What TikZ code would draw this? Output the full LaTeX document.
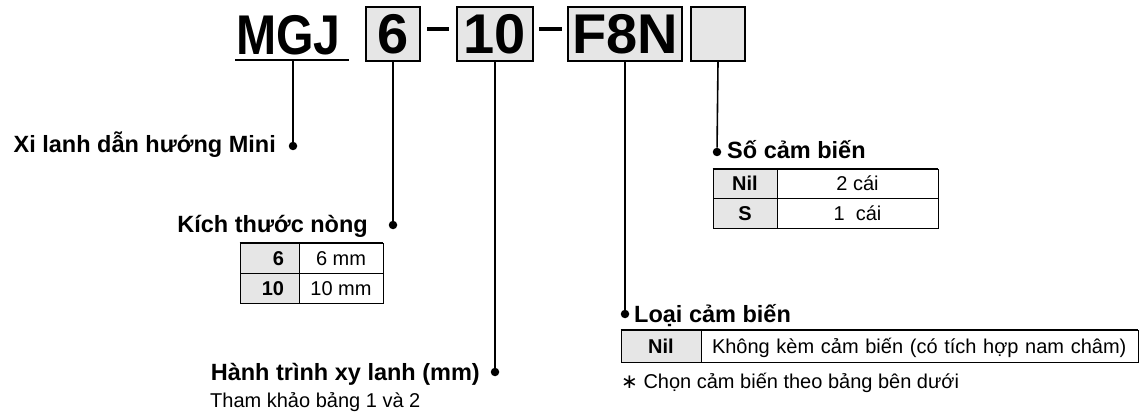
\documentclass[tikz,border=0pt]{standalone}
\usepackage{fontspec}
\setmainfont{Liberation Sans}
\newfontfamily\symfont{DejaVu Sans}
\definecolor{boxgray}{HTML}{E6E6E6}
\begin{document}
\begin{tikzpicture}[x=1pt,y=-1pt,
  big/.style={font=\fontsize{56}{56}\selectfont\bfseries},
  codebox/.style={draw, line width=2pt, fill=boxgray, inner sep=0pt, minimum height=54pt, big, text height=40pt, text depth=0pt},
  lead/.style={line width=1.6pt},
  dotnode/.style={circle, fill=black, inner sep=0pt, minimum size=8.5pt},
  head/.style={font=\fontsize{23.5}{24}\selectfont\bfseries, inner sep=0pt},
  note/.style={font=\fontsize{20}{22}\selectfont, inner sep=0pt},
  cell/.style={draw, line width=0.8pt, inner sep=0pt, text height=14.5pt, text depth=0pt},
  kcell/.style={cell, fill=boxgray, font=\fontsize{20}{22}\selectfont\bfseries},
  vcell/.style={cell, fill=white, font=\fontsize{20}{22}\selectfont},
  topline/.style={line width=1.8pt},
  dashmark/.style={line width=4pt}
]
\path[use as bounding box] (0,0) rectangle (1142,414);

% code line
\node[big, anchor=base west, inner xsep=0pt, inner ysep=0pt, text height=40pt, text depth=5pt] (mgj) at (236,55) {\scalebox{0.86}[1]{MGJ}};
\draw[line width=2.2pt] ([xshift=-1pt]mgj.south west) -- ([xshift=8pt]mgj.south east);
\node[codebox, minimum width=54pt] (b6) at (393,34) {6};
\node[codebox, minimum width=76pt] (b10) at (495,34) {10};
\node[codebox, minimum width=114pt] (bf) at (625,34) {F8N};
\node[codebox, minimum width=54pt] (be) at (718,34) {};
\draw[dashmark] (427,29) -- (449,29);
\draw[dashmark] (539,29) -- (562,29);

% Xi lanh
\node[dotnode] (d1) at (293,146) {};
\node[head, anchor=base east] (l1) at (276,153) {Xi lanh dẫn hướng Mini};
\draw[lead] (d1 |- mgj.south) -- (d1);

% Kich thuoc
\node[dotnode] (d2) at (393,225) {};
\node[head, anchor=base east] (l2) at (368,232) {Kích thước nòng};
\draw[lead] (b6.south) -- (d2);
\node[kcell, minimum width=59pt, minimum height=30pt, text width=29pt, align=right] (k6) at (269.5,258) {6};
\node[vcell, minimum width=84pt, minimum height=30pt] (v6) at (341,258) {6 mm};
\node[kcell, minimum width=59pt, minimum height=30pt, text width=29pt, align=right] (k10) at (269.5,288) {10};
\node[vcell, minimum width=84pt, minimum height=30pt] (v10) at (341,288) {10 mm};
\draw[topline] (k6.north west) -- (v6.north east);

% Hanh trinh
\node[dotnode] (d3) at (495,372) {};
\node[head, anchor=base east] (l3) at (480,380) {Hành trình xy lanh (mm)};
\draw[lead] (b10.south) -- (d3);
\node[note, anchor=base west] (n3) at (210,407) {Tham khảo bảng 1 và 2};

% Loai cam bien
\node[dotnode] (d4) at (625,314) {};
\node[head, anchor=base west] (l4) at (634,322) {Loại cảm biến};
\draw[lead] (bf.south) -- (d4);
\node[kcell, minimum width=80pt, minimum height=32pt] (lk) at (661,346) {Nil};
\node[vcell, minimum width=437pt, minimum height=32pt, text width=415pt, align=left] (lv) at (919.5,346) {Không kèm cảm biến (có tích hợp nam châm)};
\draw[topline] (lk.north west) -- (lv.north east);
\node[note, anchor=base west] (n4) at (621,388) {{\symfont ∗} Chọn cảm biến theo bảng bên dưới};

% So cam bien
\node[dotnode] (d5) at (717,152) {};
\node[head, anchor=base west] (l5) at (727,159) {Số cảm biến};
\draw[lead] (be.south) -- (d5);
\node[kcell, minimum width=64pt, minimum height=29pt] (sk1) at (745,183.5) {Nil};
\node[vcell, minimum width=161pt, minimum height=29pt] (sv1) at (857.5,183.5) {2 cái};
\node[kcell, minimum width=64pt, minimum height=30pt] (sk2) at (745,213) {S};
\node[vcell, minimum width=161pt, minimum height=30pt] (sv2) at (857.5,213) {1~~cái};
\draw[topline] (sk1.north west) -- (sv1.north east);
\end{tikzpicture}
\end{document}
